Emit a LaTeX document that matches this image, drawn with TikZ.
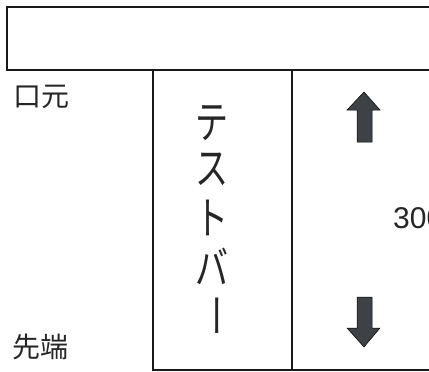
\documentclass[tikz,border=0pt]{standalone}
\usepackage{fontspec}
\setmainfont{Liberation Sans}
\newfontfamily\jp{Noto Sans CJK JP}
\definecolor{arrowgray}{RGB}{62,66,70}
\definecolor{linegray}{RGB}{25,25,25}
\tikzset{
  frame/.style={draw=linegray,line width=1.3pt},
  thick frame/.style={draw=linegray,line width=2.2pt},
  bigarrow/.style={fill=arrowgray,draw=black,line width=0.5pt,line join=miter},
  label jp/.style={anchor=west,inner sep=0pt,font=\jp\fontsize{28}{28}\selectfont,text=black!85},
  vchar/.style={inner sep=0pt,font=\jp\fontsize{33}{33}\selectfont,yscale=1.35,text=black!85},
}
\begin{document}
\begin{tikzpicture}[x=1pt,y=-1pt]
\useasboundingbox (0,0) rectangle (429,372);
\clip (0,0) rectangle (429,372);
\fill[white] (0,0) rectangle (429,372);
% top bar
\draw[frame] (7,7) rectangle (445,70);
% strip and right region
\coordinate (sl) at (153,70);
\coordinate (sr) at (292,70);
\coordinate (bl) at (153,370);
\coordinate (br) at (292,370);
\coordinate (be) at (445,370);
\draw[thick frame] (sl) -- (bl) -- (be);
\draw[thick frame] (sr) -- (br);
% labels
\node[label jp] (mouth) at (13,97) {口元};
\node[label jp] (tip) at (12,347) {先端};
% vertical text
\node[vchar] (c1) at (212,123) {テ};
\node[vchar] (c2) at (212,169) {ス};
\node[vchar] (c3) at (212,218) {ト};
\node[vchar] (c4) at (212,266) {バ};
\node[vchar,rotate=-90] (c5) at (212,316) {ー};
% arrows
\draw[bigarrow] (364,92) -- (380,110) -- (372,110) -- (372,142) -- (357,142) -- (357,110) -- (347,110) -- cycle;
\draw[bigarrow] (364,347) -- (380,328) -- (372,328) -- (372,297) -- (357,297) -- (357,328) -- (347,328) -- cycle;
% number
\node[anchor=west,inner sep=0pt,font=\fontsize{30}{30}\selectfont,text=black!85] (len) at (393,218) {300};
\end{tikzpicture}
\end{document}
